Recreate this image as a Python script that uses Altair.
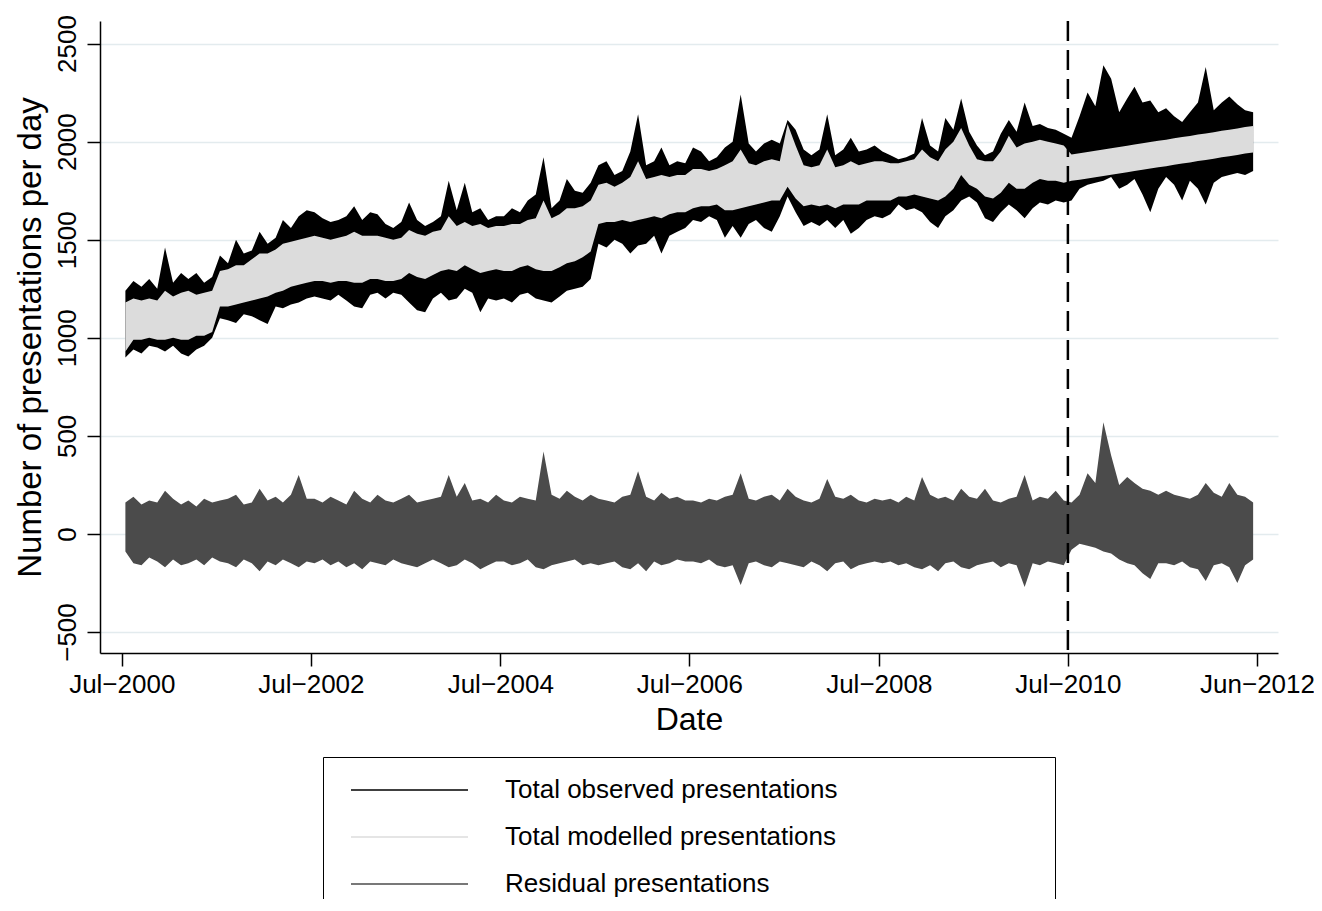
import altair as alt
import pandas as pd

# Monthly envelopes, July 2000 .. June 2012 (12 values per financial year)
obs_hi = [
    1240, 1290, 1260, 1300, 1250, 1460, 1280, 1330, 1300, 1330, 1280, 1310,
    1420, 1380, 1500, 1430, 1445, 1540, 1480, 1510, 1600, 1560, 1620, 1650,
    1640, 1610, 1590, 1600, 1620, 1670, 1600, 1640, 1630, 1580, 1560, 1590,
    1690, 1600, 1570, 1590, 1620, 1800, 1650, 1790, 1640, 1660, 1600, 1620,
    1620, 1660, 1640, 1700, 1730, 1920, 1660, 1700, 1810, 1750, 1740, 1790,
    1880, 1900, 1830, 1850, 1950, 2140, 1880, 1900, 1970, 1880, 1900, 1890,
    1970, 1950, 1900, 1920, 1970, 2000, 2240, 1990, 1950, 1990, 2010, 1990,
    2110, 2060, 1960, 1930, 1960, 2140, 1930, 1960, 2020, 1950, 1960, 1980,
    1950, 1930, 1910, 1920, 1940, 2120, 1980, 1950, 2120, 2060, 2220, 2050,
    1980, 1930, 1950, 2040, 2110, 2050, 2200, 2080, 2090, 2070, 2060, 2040,
    2020, 2130, 2250, 2180, 2390, 2320, 2150, 2220, 2280, 2200, 2210, 2150,
    2170, 2130, 2100, 2150, 2200, 2380, 2160, 2200, 2230, 2190, 2160, 2150,
]
obs_lo = [
    900, 940, 920, 960, 950, 930, 960, 920, 905, 940, 960, 1000,
    1100, 1090, 1075, 1120, 1110, 1090, 1070, 1160, 1150, 1170, 1180, 1200,
    1210, 1200, 1190, 1220, 1190, 1160, 1150, 1220, 1230, 1200, 1230, 1220,
    1180, 1140, 1130, 1200, 1230, 1190, 1200, 1250, 1230, 1130, 1200, 1190,
    1200, 1180, 1220, 1230, 1200, 1190, 1180, 1210, 1240, 1250, 1260, 1300,
    1480, 1460, 1500, 1480, 1430, 1470, 1480, 1520, 1430, 1520, 1540, 1560,
    1600, 1590, 1620, 1600, 1510, 1570, 1510, 1580, 1600, 1560, 1540, 1620,
    1720, 1640, 1570, 1590, 1570, 1600, 1560, 1600, 1530, 1560, 1600, 1620,
    1610, 1630, 1680, 1650, 1660, 1640, 1590, 1560, 1620, 1650, 1700, 1720,
    1690, 1610, 1590, 1640, 1680, 1650, 1610, 1660, 1690, 1680, 1700, 1690,
    1700, 1760, 1780, 1790, 1800, 1820, 1760, 1780, 1810, 1730, 1640, 1760,
    1820, 1780, 1700, 1800, 1760, 1680, 1790, 1820, 1830, 1840, 1830, 1850,
]
mod_hi = [
    1180, 1200, 1190, 1200, 1190, 1240, 1210, 1230, 1240, 1220, 1230, 1240,
    1340, 1350, 1370, 1370, 1400, 1430, 1430, 1450, 1480, 1490, 1500, 1510,
    1520, 1510, 1500, 1510, 1520, 1540, 1520, 1520, 1520, 1510, 1500, 1510,
    1550, 1530, 1520, 1540, 1550, 1620, 1570, 1590, 1570, 1580, 1560, 1570,
    1570, 1580, 1580, 1600, 1610, 1700, 1610, 1630, 1660, 1660, 1670, 1700,
    1780, 1790, 1770, 1790, 1820, 1900, 1810, 1820, 1830, 1820, 1830, 1830,
    1860, 1860, 1850, 1860, 1880, 1900, 1960, 1890, 1880, 1900, 1910, 1900,
    2090, 1980, 1880, 1870, 1880, 1960, 1870, 1880, 1900, 1880, 1890, 1900,
    1900, 1890, 1890, 1900, 1910, 1960, 1920, 1900, 1960, 2000, 2070, 1980,
    1910, 1900, 1900, 1950, 2030, 1970, 1990, 2000, 2010, 2000, 1990, 1980,
    1935, 1941, 1947, 1954, 1960, 1966, 1973, 1979, 1985, 1992, 1998, 2004,
    2010, 2017, 2023, 2029, 2036, 2042, 2048, 2055, 2061, 2067, 2074, 2080,
]
mod_lo = [
    930, 990, 990, 1000, 990, 990, 1000, 990, 990, 1010, 1010, 1030,
    1160, 1160, 1170, 1180, 1190, 1200, 1210, 1230, 1240, 1260, 1270, 1280,
    1290, 1290, 1280, 1290, 1290, 1280, 1280, 1300, 1300, 1290, 1290, 1300,
    1330, 1310, 1300, 1320, 1340, 1350, 1340, 1370, 1350, 1330, 1340, 1350,
    1340, 1340, 1360, 1370, 1350, 1340, 1340, 1360, 1380, 1390, 1410, 1440,
    1580, 1590, 1590, 1600, 1590, 1600, 1610, 1620, 1610, 1630, 1640, 1640,
    1660, 1670, 1670, 1680, 1650, 1650, 1660, 1670, 1680, 1690, 1700, 1700,
    1770, 1710, 1670, 1680, 1670, 1680, 1660, 1680, 1680, 1680, 1700, 1700,
    1700, 1700, 1720, 1720, 1730, 1720, 1710, 1700, 1720, 1760, 1830, 1780,
    1760, 1720, 1710, 1740, 1790, 1760, 1760, 1790, 1810, 1800, 1800, 1790,
    1800, 1806, 1812, 1819, 1825, 1831, 1838, 1844, 1850, 1857, 1863, 1869,
    1875, 1882, 1888, 1894, 1901, 1907, 1913, 1920, 1926, 1932, 1939, 1945,
]
res_hi = [
    160, 190, 150, 170, 160, 220, 180, 150, 170, 140, 180, 160,
    170, 180, 200, 150, 160, 230, 170, 190, 160, 200, 300, 180,
    180, 160, 190, 170, 150, 220, 180, 160, 200, 170, 160, 180,
    200, 160, 170, 180, 190, 300, 190, 260, 170, 180, 160, 200,
    170, 160, 190, 180, 170, 420, 200, 180, 220, 190, 170, 200,
    180, 170, 160, 190, 200, 320, 190, 170, 210, 180, 190, 170,
    170, 160, 180, 170, 190, 200, 310, 180, 170, 190, 200, 170,
    230, 190, 170, 160, 180, 280, 190, 180, 200, 170, 160, 180,
    170, 180, 160, 190, 170, 290, 200, 180, 190, 170, 230, 190,
    180, 230, 170, 160, 180, 190, 300, 170, 190, 180, 220, 170,
    160, 200, 310, 260, 570, 400, 250, 290, 260, 230, 220, 200,
    220, 200, 190, 180, 200, 260, 210, 190, 260, 200, 190, 160,
]
res_lo = [
    -90, -150, -160, -120, -140, -170, -130, -160, -150, -130, -160, -120,
    -140, -150, -170, -130, -150, -190, -140, -160, -130, -150, -170, -140,
    -150, -130, -160, -140, -170, -150, -180, -140, -150, -160, -130, -150,
    -160, -170, -150, -130, -150, -170, -160, -130, -150, -180, -160, -140,
    -140, -160, -150, -130, -170, -180, -160, -150, -140, -130, -160, -150,
    -160, -150, -140, -170, -180, -150, -190, -140, -160, -150, -130, -140,
    -140, -150, -130, -160, -170, -160, -260, -150, -140, -160, -170, -140,
    -150, -160, -170, -140, -160, -190, -150, -140, -180, -160, -150, -140,
    -150, -140, -160, -150, -170, -180, -160, -190, -150, -140, -170, -180,
    -160, -150, -140, -170, -150, -160, -270, -150, -160, -140, -150, -160,
    -80, -50, -60, -70, -90, -100, -130, -150, -160, -200, -230, -150,
    -150, -160, -140, -170, -180, -240, -160, -150, -170, -250, -160, -130,
]

series_names = ["Total observed presentations", "Total modelled presentations", "Residual presentations"]
series_colors = ["#000000", "#dcdcdc", "#4b4b4b"]
cutoff_dates = ["2010-07-01"]
tick_dates = [(2000, 7, 1), (2002, 7, 1), (2004, 7, 1), (2006, 7, 1), (2008, 7, 1), (2010, 7, 1), (2012, 6, 30)]
y_ticks = [-500, 0, 500, 1000, 1500, 2000, 2500]

month_dates = [d.strftime("%Y-%m-%d") for d in (pd.date_range("2000-07-01", periods=len(obs_hi), freq="MS") + pd.Timedelta(days=14))]

rows = []
for name, lo, hi in zip(series_names, [obs_lo, mod_lo, res_lo], [obs_hi, mod_hi, res_hi]):
    for d, a, b in zip(month_dates, lo, hi):
        rows.append({"date": d, "series": name, "lo": a, "hi": b})
df = pd.DataFrame(rows)

FONT = "Liberation Sans"

x_enc = alt.X(
    "date:T",
    scale=alt.Scale(type="utc", domain=[alt.DateTime(year=2000, month=4, date=8, utc=True),
                                        alt.DateTime(year=2012, month=9, date=19, utc=True)]),
    axis=alt.Axis(
        values=[alt.DateTime(year=y, month=m, date=d, utc=True) for (y, m, d) in tick_dates],
        labelExpr="utcFormat(datum.value, '%b') + '\u2212' + utcFormat(datum.value, '%Y')",
        grid=False, labelPadding=5, labelFlush=False, labelOverlap=False, labelBound=False,
        titleY=76, titleBaseline="alphabetic",
    ),
    title="Date",
)
y_enc = alt.Y(
    "lo:Q",
    scale=alt.Scale(domain=[-607, 2615], nice=False, zero=False),
    axis=alt.Axis(
        values=y_ticks, format="d", labelAngle=-90, labelAlign="center", labelBaseline="alphabetic",
        labelPadding=12, grid=True, titleX=-53, titleY=316, titleBaseline="bottom", titleAngle=-90,
        titleAlign="center", titleFontSize=33,
    ),
    title="Number of presentations per day",
)
# legend symbol: a thin horizontal bar; the trailing move-to only widens the frame
color_enc = alt.Color(
    "series:N",
    scale=alt.Scale(domain=series_names, range=series_colors),
    legend=alt.Legend(
        title=None, orient="none", legendX=223, legendY=736, direction="vertical",
        strokeColor="black", fillColor="white", padding=20,
        labelFont=FONT, labelFontSize=26, labelColor="black", labelLimit=1000,
        symbolType="M-0.43,-0.07H9.57V0.07H-0.43Z M58,0", symbolSize=548, symbolStrokeWidth=0,
        symbolOpacity=1, labelOffset=136, rowPadding=21,
    ),
)

base = alt.Chart(df)
layers = []
for name in series_names:
    layers.append(
        base.transform_filter(alt.datum.series == name)
        .mark_area(opacity=1)
        .encode(x=x_enc, y=y_enc, y2="hi:Q", color=color_enc)
    )
rule = alt.Chart(pd.DataFrame({"date": cutoff_dates})).mark_rule(
    color="black", strokeWidth=2.5, strokeDash=[20, 9]
).encode(x="date:T")

chart = (
    alt.layer(*layers, rule)
    .properties(width=1178, height=632,
                padding={"left": 92, "top": 13, "right": 36, "bottom": 246},
                autosize=alt.AutoSizeParams(type="none"))
    .configure_view(stroke=None)
    .configure_axis(
        labelFont=FONT, labelFontSize=26, labelColor="black",
        titleFont=FONT, titleFontSize=32, titleFontWeight="normal", titleColor="black",
        domainColor="black", domainWidth=1.5, tickColor="black", tickWidth=1.5, tickSize=13,
        gridColor="#e3ebee", gridWidth=1.5,
    )
)
chart.save("out.html", embed_options={"renderer": "svg", "actions": False})
